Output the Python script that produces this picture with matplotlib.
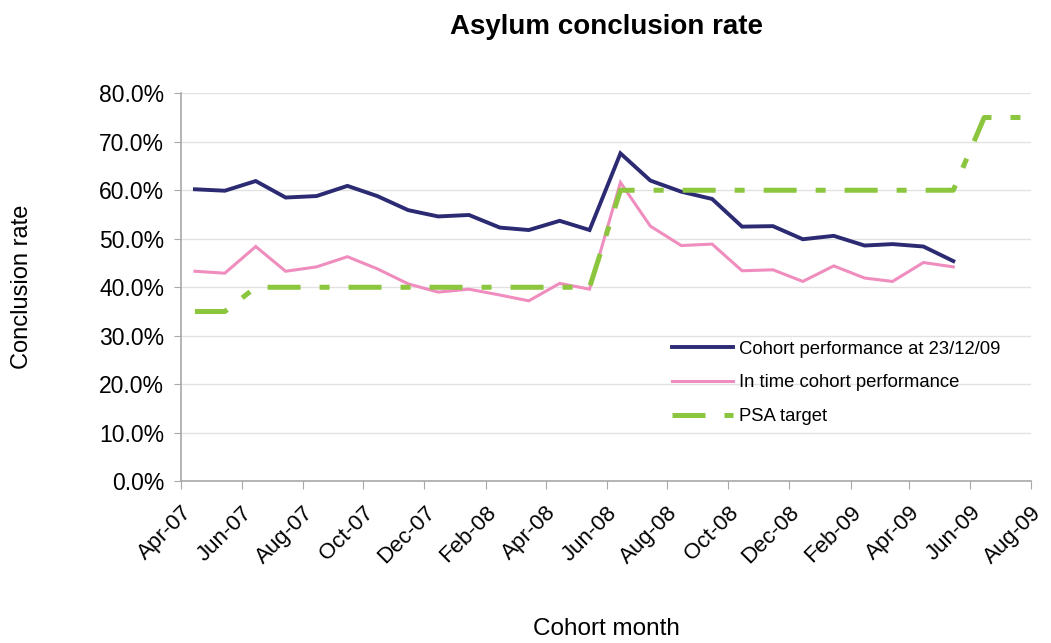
import datetime as dt
import matplotlib
matplotlib.use("Agg")
import matplotlib.pyplot as plt
import matplotlib.dates as mdates
from matplotlib.ticker import FuncFormatter

plt.rcParams['font.family'] = ['Liberation Sans', 'DejaVu Sans']

# cohort months Apr-07 .. Aug-09 (plotted mid-month)
months = [(2007, m) for m in range(4, 13)] + [(2008, m) for m in range(1, 13)] + [(2009, m) for m in range(1, 9)]

cohort_perf = [60.2, 59.9, 61.9, 58.5, 58.8, 60.9, 58.8, 55.9, 54.6, 54.9,
               52.3, 51.8, 53.7, 51.8, 67.6, 62.0, 59.7, 58.2, 52.5, 52.6,
               49.9, 50.6, 48.6, 48.9, 48.4, 45.4]
in_time_perf = [43.3, 42.9, 48.4, 43.3, 44.2, 46.3, 43.8, 40.7, 39.0, 39.6,
                38.4, 37.2, 40.8, 39.6, 61.6, 52.6, 48.6, 48.9, 43.4, 43.6,
                41.2, 44.4, 41.9, 41.2, 45.1, 44.2]
psa_target = [35, 35] + [40] * 12 + [60] * 12 + [75] * 3

labels = ["Cohort performance at 23/12/09", "In time cohort performance", "PSA target"]

dates = [dt.date(y, m, 15) for y, m in months]

fig = plt.figure(figsize=(10.51, 6.43), dpi=100)
ax = fig.add_axes([0.1722, 0.2515, 0.8088, 0.6035])

ax.plot(dates[:len(cohort_perf)], cohort_perf, color='#2b2a72', lw=2.8,
        label=labels[0], solid_joinstyle='miter')
ax.plot(dates[:len(in_time_perf)], in_time_perf, color='#f08dbf', lw=2.2,
        label=labels[1], solid_joinstyle='miter')
ax.plot(dates[:len(psa_target)], psa_target, color='#8cc63f', lw=3.6,
        linestyle=(0, (6.6, 3.8, 2.0, 3.8)), label=labels[2])

ax.set_xlim(dt.date(2007, 4, 1), dt.date(2009, 8, 1))
ax.set_ylim(0, 80)
ax.set_yticks(range(0, 81, 10))
ax.yaxis.set_major_formatter(FuncFormatter(lambda v, p: f"{v:.1f}%"))
ax.xaxis.set_major_locator(mdates.MonthLocator(bymonth=[2, 4, 6, 8, 10, 12]))
ax.xaxis.set_major_formatter(mdates.DateFormatter('%b-%y'))

ax.grid(axis='y', color='#e2e2e2', lw=1)
ax.set_axisbelow(True)
for s in ['top', 'right']:
    ax.spines[s].set_visible(False)
for s in ['left', 'bottom']:
    ax.spines[s].set_color('#a8a8a8')
    ax.spines[s].set_linewidth(1.2)

ax.tick_params(axis='y', labelsize=16.5, length=5, color='#a8a8a8', pad=7)
ax.tick_params(axis='x', labelsize=16, length=6, color='#a8a8a8', pad=9)
for lbl in ax.get_xticklabels():
    lbl.set_rotation(45)
    lbl.set_ha('right')
    lbl.set_va('top')
    lbl.set_rotation_mode('anchor')

ax.legend(loc='upper left', bbox_to_anchor=(0.578, 0.362), frameon=False,
          fontsize=13.3, handlelength=3.3, handletextpad=0.3, labelspacing=0.9,
          borderpad=0, borderaxespad=0)

fig.text(606 / 1051, 1 - 27 / 643, "Asylum conclusion rate", ha='center', va='center',
         fontsize=20, fontweight='heavy')
fig.text(22 / 1051, 1 - 287 / 643, "Conclusion rate", ha='center', va='center',
         rotation=90, fontsize=17)
fig.text(606 / 1051, 1 - 629 / 643, "Cohort month", ha='center', va='center',
         fontsize=17.5)

fig.savefig("out.png", dpi=100)
